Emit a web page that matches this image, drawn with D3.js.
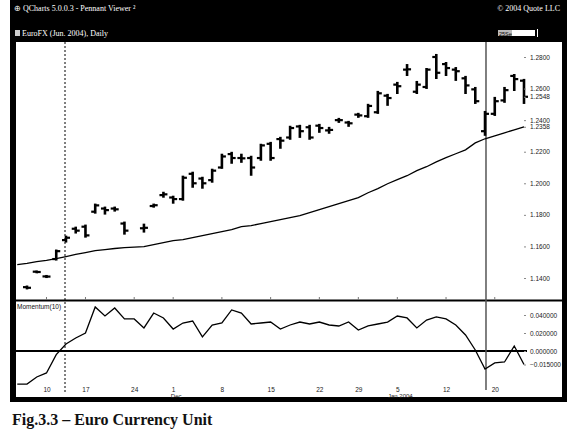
<!DOCTYPE html>
<html><head><meta charset="utf-8">
<script src="https://cdn.jsdelivr.net/npm/d3@7"></script>
<style>body{margin:0;background:#fff}svg{display:block}</style>
</head><body><svg id="c" width="577" height="440"></svg>
<script>
// ---- data (bar index 0 = Nov 6 2003, trading days) ----
const highs  = [1.1346,1.1441,1.1413,1.1574,1.1662,1.1719,1.1732,1.1865,1.1846,1.1846,1.1751,null,1.1738,1.1865,1.1940,1.1915,1.2042,1.2067,1.2035,1.2086,1.2181,1.2193,1.2181,1.2168,1.2244,1.2256,1.2288,1.2358,1.2364,1.2364,1.2370,1.2351,1.2408,1.2389,1.2440,1.2497,1.2579,1.2560,1.2636,1.2749,1.2642,1.2724,1.2813,1.2762,1.2730,1.2674,1.2604,1.2452,1.2541,1.2604,1.2686,1.2655];
const lows   = [1.1334,1.1436,1.1406,1.1517,1.1631,1.1688,1.1662,1.1814,1.1808,1.1827,1.1681,null,1.1694,1.1852,1.1915,1.1877,1.1896,1.1978,1.1972,1.2010,1.2098,1.2130,1.2136,1.2054,1.2149,1.2149,1.2225,1.2282,1.2294,1.2282,1.2326,1.2320,1.2389,1.2364,1.2421,1.2421,1.2446,1.2497,1.2572,1.2686,1.2572,1.2604,1.2667,1.2686,1.2655,1.2572,1.2509,1.2307,1.2433,1.2516,1.2591,1.2509];
const opens  = [1.1342,1.1440,1.1410,1.1520,1.1640,1.1712,1.1725,1.1820,1.1840,1.1840,1.1745,null,1.1715,1.1856,1.1925,1.1910,1.1900,1.2060,1.2030,1.2020,1.2100,1.2185,1.2160,1.2160,1.2160,1.2250,1.2280,1.2290,1.2360,1.2355,1.2365,1.2335,1.2400,1.2385,1.2435,1.2425,1.2450,1.2555,1.2625,1.2720,1.2580,1.2610,1.2800,1.2755,1.2720,1.2665,1.2595,1.2330,1.2440,1.2525,1.2680,1.2650];
const closes = [1.1338,1.1438,1.1409,1.1570,1.1655,1.1700,1.1670,1.1860,1.1830,1.1835,1.1700,null,1.1718,1.1861,1.1930,1.1900,1.2035,1.2000,1.2000,1.2080,1.2170,1.2160,1.2158,1.2100,1.2240,1.2160,1.2270,1.2350,1.2330,1.2290,1.2350,1.2338,1.2400,1.2380,1.2430,1.2490,1.2570,1.2540,1.2615,1.2722,1.2625,1.2720,1.2700,1.2730,1.2710,1.2620,1.2520,1.2440,1.2520,1.2590,1.2660,1.2548];
// moving average and Momentum(10), first value is index -1
const maValues = [1.1485,1.1492,1.1504,1.1511,1.1523,1.1536,1.1549,1.1561,1.1574,1.1580,1.1587,1.1593,1.1596,1.1599,1.1612,1.1624,1.1637,1.1643,1.1656,1.1669,1.1681,1.1694,1.1707,1.1726,1.1732,1.1745,1.1757,1.1770,1.1782,1.1795,1.1814,1.1833,1.1852,1.1871,1.1890,1.1909,1.1940,1.1966,1.1997,1.2023,1.2048,1.2080,1.2105,1.2136,1.2162,1.2187,1.2212,1.2256,1.2282,1.2301,1.2320,1.2339,1.2358];
const momValues = [-0.0367,-0.0367,-0.0289,-0.0244,-0.0040,0.0078,0.0144,0.0200,0.0489,0.0389,0.0478,0.0356,0.0356,0.0256,0.0422,0.0367,0.0244,0.0311,0.0333,0.0156,0.0289,0.0311,0.0456,0.0422,0.0300,0.0311,0.0322,0.0244,0.0289,0.0322,0.0300,0.0322,0.0289,0.0278,0.0322,0.0233,0.0278,0.0300,0.0322,0.0389,0.0367,0.0256,0.0344,0.0378,0.0356,0.0289,0.0178,0.0011,-0.0200,-0.0133,-0.0122,0.0056,-0.0150];
const tickIdx    = [2,6,11,15,20,25,30,34,38,43,48];
const tickLabels = ["10","17","24","1","8","15","22","29","5","12","20"];
const monthIdx    = [15,38];
const monthLabels = ["Dec","Jan 2004"];
const priceTicks = [1.28,1.26,1.24,1.22,1.20,1.18,1.16,1.14];
const priceMarks = [1.2548,1.2358];
const momTicks = [0.04,0.02,0];
const momMarks = [-0.015];
const markerIdx = 3.9;   // dotted line
const cursorIdx = 47.1;  // cursor line

const svg = d3.select("#c");
const x = d3.scaleLinear().domain([0,51]).range([27,524]);
const y = d3.scaleLinear().domain([1.14,1.28]).range([278,57]);
const ym = d3.scaleLinear().domain([0,0.04]).range([351,315]);
const F = "'Liberation Sans', Arial, sans-serif";

// frame
svg.append("rect").attr("x",10).attr("y",0).attr("width",557).attr("height",42).attr("fill","#000");
svg.append("rect").attr("x",10).attr("y",0).attr("width",6).attr("height",402).attr("fill","#000");
svg.append("rect").attr("x",562).attr("y",0).attr("width",5).attr("height",402).attr("fill","#000");
svg.append("rect").attr("x",10).attr("y",397).attr("width",557).attr("height",5).attr("fill","#000");

// header texts
svg.append("text").attr("x",14).attr("y",11).attr("fill","#fff").attr("font-family","'Liberation Serif',serif").attr("font-size",8).text("⊕ QCharts 5.0.0.3 - Pennant Viewer ²");
svg.append("text").attr("x",560).attr("y",11).attr("fill","#fff").attr("text-anchor","end").attr("font-family","'Liberation Serif',serif").attr("font-size",8).text("© 2004 Quote LLC");
svg.append("rect").attr("x",15).attr("y",30).attr("width",5).attr("height",6).attr("fill","#ccc");
svg.append("text").attr("x",22).attr("y",36).attr("fill","#fff").attr("font-family","'Liberation Serif',serif").attr("font-size",8).text("EuroFX (Jun. 2004), Daily");
svg.append("rect").attr("x",498).attr("y",30).attr("width",14).attr("height",6).attr("fill","#bbb");
svg.append("text").attr("x",499).attr("y",35.5).attr("fill","#000").attr("font-family",F).attr("font-size",5.5).text("25Sec");
svg.append("rect").attr("x",512).attr("y",30).attr("width",23).attr("height",6).attr("fill","#fff");
svg.append("rect").attr("x",537).attr("y",29).attr("width",1).attr("height",8).attr("fill","#fff");

// panel separators
svg.append("line").attr("x1",16).attr("x2",562).attr("y1",300.5).attr("y2",300.5).attr("stroke","#000").attr("stroke-width",2);
svg.append("line").attr("x1",16).attr("x2",527).attr("y1",ym(0)).attr("y2",ym(0)).attr("stroke","#000").attr("stroke-width",2);

// small x ticks at panel bottom
svg.append("g").selectAll("line").data(tickIdx).join("line")
  .attr("x1",d=>x(d)).attr("x2",d=>x(d)).attr("y1",297).attr("y2",300).attr("stroke","#777").attr("stroke-width",1);

// vertical marker lines
svg.append("line").attr("x1",x(markerIdx)).attr("x2",x(markerIdx)).attr("y1",42).attr("y2",393)
  .attr("stroke","#000").attr("stroke-width",1).attr("stroke-dasharray","2,2");
svg.append("line").attr("x1",x(cursorIdx)).attr("x2",x(cursorIdx)).attr("y1",42).attr("y2",390)
  .attr("stroke","#555").attr("stroke-width",1.5);

// moving average
const maLine = d3.line().x((d,i)=>x(i-1)).y(d=>y(d));
svg.append("path").attr("d",maLine(maValues)).attr("fill","none").attr("stroke","#000").attr("stroke-width",1.3);

// OHLC bars
const bars = d3.range(highs.length).filter(i=>highs[i]!==null);
const gb = svg.append("g").attr("stroke","#000");
gb.selectAll("line.hl").data(bars).join("line").attr("class","hl")
  .attr("x1",i=>x(i)).attr("x2",i=>x(i)).attr("y1",i=>y(highs[i])-1).attr("y2",i=>y(lows[i])+1).attr("stroke-width",2.6);
gb.selectAll("line.o").data(bars).join("line").attr("class","o")
  .attr("x1",i=>x(i)-4).attr("x2",i=>x(i)).attr("y1",i=>y(opens[i])).attr("y2",i=>y(opens[i])).attr("stroke-width",2.2);
gb.selectAll("line.c").data(bars).join("line").attr("class","c")
  .attr("x1",i=>x(i)).attr("x2",i=>x(i)+4).attr("y1",i=>y(closes[i])).attr("y2",i=>y(closes[i])).attr("stroke-width",2.2);

// momentum
const momLine = d3.line().x((d,i)=>x(i-1)).y(d=>ym(d));
svg.append("path").attr("d",momLine(momValues)).attr("fill","none").attr("stroke","#000").attr("stroke-width",1.3);
svg.append("text").attr("x",17).attr("y",309).attr("font-family",F).attr("font-size",6.5).attr("fill","#111").text("Momentum(10)");

// right axes
function rightAxis(scale, vals, fmt){
  const g = svg.append("g").attr("transform","translate(524,0)")
    .call(d3.axisRight(scale).tickValues(vals).tickSize(2).tickPadding(4).tickFormat(fmt));
  g.select(".domain").remove();
  g.selectAll("text").attr("font-family",F).attr("font-size",6.5).attr("fill","#222");
  g.selectAll("line").attr("stroke","#888");
}
rightAxis(y, priceTicks, d3.format(".4f"));
rightAxis(y, priceMarks, d3.format(".4f"));
rightAxis(ym, momTicks, d3.format(".6f"));
rightAxis(ym, momMarks, d3.format(".6f"));

// bottom axis
const gx = svg.append("g").attr("transform","translate(0,384)")
  .call(d3.axisBottom(x).tickValues(tickIdx).tickSize(0).tickPadding(3).tickFormat((d,i)=>tickLabels[i]));
gx.select(".domain").remove();
gx.selectAll("text").attr("font-family",F).attr("font-size",6.5).attr("fill","#222");
svg.append("g").selectAll("text").data(monthIdx).join("text")
  .attr("x",d=>x(d)+3).attr("y",398).attr("text-anchor","middle").attr("font-family",F).attr("font-size",6)
  .attr("fill","#222").text((d,i)=>monthLabels[i]);

// caption
svg.append("text").attr("x",12).attr("y",425).attr("font-family","'Liberation Serif','Times New Roman',serif")
  .attr("font-weight","bold").attr("font-size",16).attr("fill","#111").text("Fig.3.3 – Euro Currency Unit");
</script></body></html>
